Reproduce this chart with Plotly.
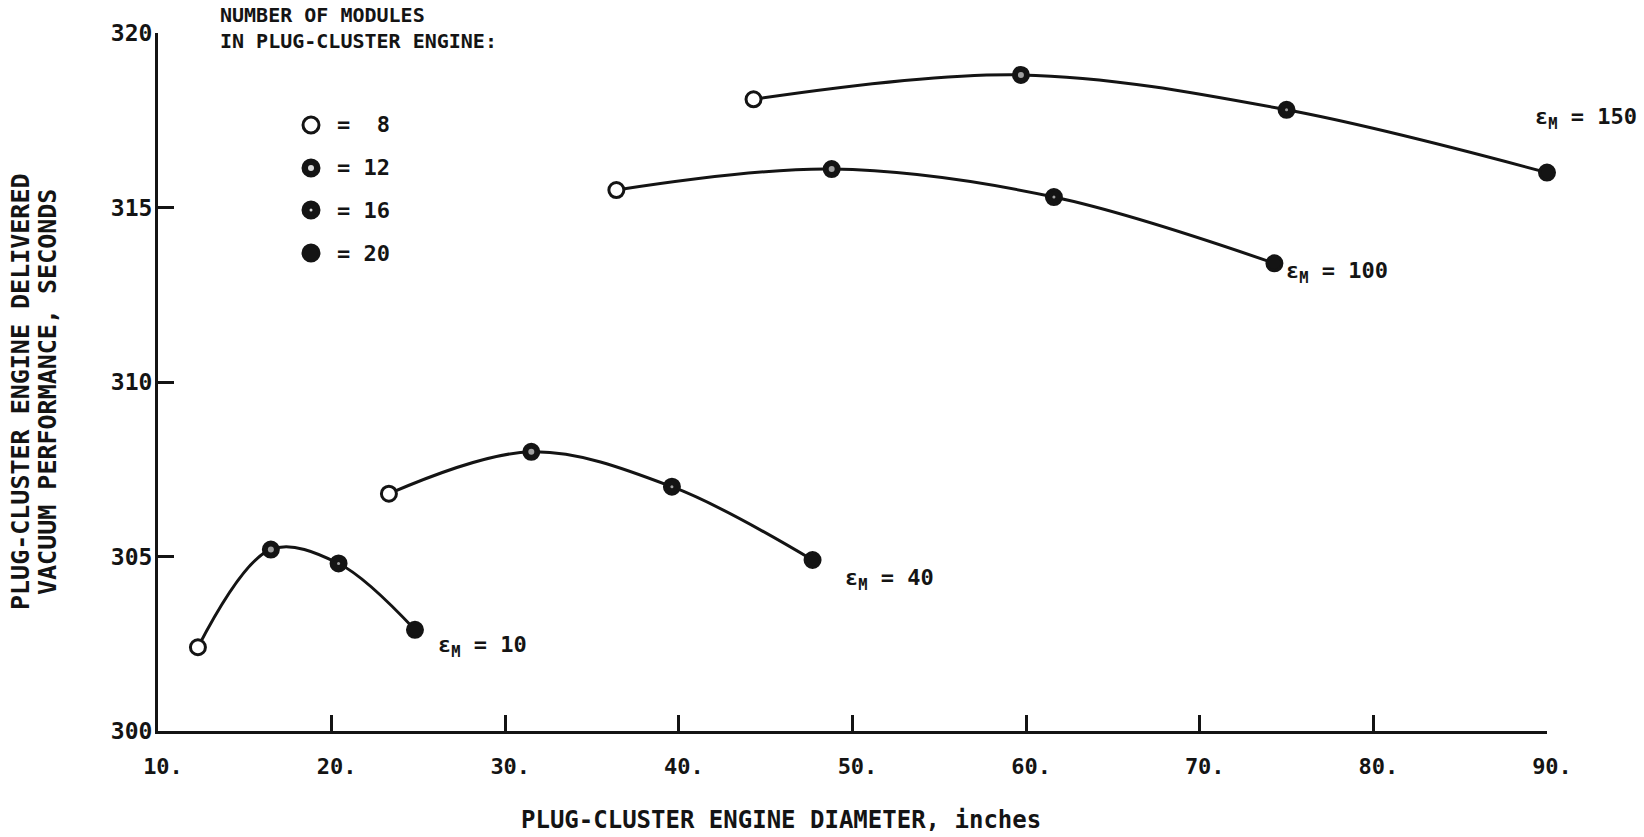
import plotly.graph_objects as go

# Number of modules at each computed point (same order on every curve)
modules = [8, 12, 16, 20]

# Engine diameter (inches) and delivered vacuum Isp (s) for each module area ratio
diam_eps10 = [12.3, 16.5, 20.4, 24.8]
isp_eps10 = [302.4, 305.2, 304.8, 302.9]

diam_eps40 = [23.3, 31.5, 39.6, 47.7]
isp_eps40 = [306.8, 308.0, 307.0, 304.9]

diam_eps100 = [36.4, 48.8, 61.6, 74.3]
isp_eps100 = [315.5, 316.1, 315.3, 313.4]

diam_eps150 = [44.3, 59.7, 75.0, 90.0]
isp_eps150 = [318.1, 318.8, 317.8, 316.0]

eps_values = ["10", "40", "100", "150"]

x_ticks = [10, 20, 30, 40, 50, 60, 70, 80, 90]
x_ticktext = ["10.", "20.", "30.", "40.", "50.", "60.", "70.", "80.", "90."]
y_ticks = [300, 305, 310, 315, 320]

FONT = "DejaVu Sans Mono"
INK = "#141414"

W, H = 1644, 837
L, R, T, B = 158, 1547, 33, 731


def px_x(px):
    return (px - L) / (R - L)


def px_y(py):
    return (B - py) / (B - T)


def txt(size):
    return dict(family=FONT, size=size, color=INK, weight="bold")


# marker appearance by module count
fill_by_mod = {8: "white", 12: INK, 16: INK, 20: INK}
core_by_mod = {12: 6, 16: 3}

# (diameters, isp, area ratio, label x offset px, label y offset px)
curves = [
    (diam_eps10, isp_eps10, eps_values[0], 21, -17),
    (diam_eps40, isp_eps40, eps_values[1], 30, -20),
    (diam_eps100, isp_eps100, eps_values[2], 10, -9),
    (diam_eps150, isp_eps150, eps_values[3], -14, 54),
]

fig = go.Figure()
annotations = []

for xs, ys, eps, dx, dy in curves:
    fig.add_trace(go.Scatter(
        x=xs, y=ys, mode="lines",
        line=dict(color=INK, width=3, shape="spline", smoothing=1.0),
        hoverinfo="skip", showlegend=False, cliponaxis=False,
    ))
    fig.add_trace(go.Scatter(
        x=xs, y=ys, mode="markers",
        marker=dict(size=15, symbol="circle",
                    color=[fill_by_mod[m] for m in modules],
                    line=dict(color=INK, width=3)),
        showlegend=False, cliponaxis=False,
        name="ε_M = " + eps,
    ))
    cx = [x for x, m in zip(xs, modules) if m in core_by_mod]
    cy = [y for y, m in zip(ys, modules) if m in core_by_mod]
    cs = [core_by_mod[m] for m in modules if m in core_by_mod]
    fig.add_trace(go.Scatter(
        x=cx, y=cy, mode="markers",
        marker=dict(size=cs, color="#d8d8d8", line=dict(width=0)),
        hoverinfo="skip", showlegend=False, cliponaxis=False,
    ))
    annotations.append(dict(
        x=xs[-1], y=ys[-1], xref="x", yref="y",
        text="ε<sub>M</sub> = " + eps, showarrow=False,
        xanchor="left", yanchor="middle", xshift=dx, yshift=dy,
        font=txt(22),
    ))

# module-count key
shapes = []
key_x = 311
key_rows = [125, 168, 210, 253]
for m, py in zip(modules, key_rows):
    shapes.append(dict(
        type="circle", xref="paper", yref="paper",
        xsizemode="pixel", ysizemode="pixel",
        xanchor=px_x(key_x), yanchor=px_y(py),
        x0=-8, x1=8, y0=-8, y1=8,
        fillcolor=fill_by_mod[m], line=dict(color=INK, width=3),
    ))
    if m in core_by_mod:
        r = core_by_mod[m] / 2
        shapes.append(dict(
            type="circle", xref="paper", yref="paper",
            xsizemode="pixel", ysizemode="pixel",
            xanchor=px_x(key_x), yanchor=px_y(py),
            x0=-r, x1=r, y0=-r, y1=r,
            fillcolor="#d8d8d8", line=dict(width=0),
        ))
    annotations.append(dict(
        x=px_x(335), y=px_y(py), xref="paper", yref="paper",
        text="= " + str(m).rjust(2), showarrow=False,
        xanchor="left", yanchor="middle",
        font=txt(22),
    ))

annotations.append(dict(
    x=px_x(218), y=px_y(28), xref="paper", yref="paper",
    text="NUMBER OF MODULES<br>IN PLUG-CLUSTER ENGINE:", align="left",
    showarrow=False, xanchor="left", yanchor="middle",
    font=txt(20),
))

# axis titles
annotations.append(dict(
    x=px_x(781), y=px_y(820), xref="paper", yref="paper",
    text="PLUG-CLUSTER ENGINE DIAMETER, inches", showarrow=False,
    xanchor="center", yanchor="middle",
    font=txt(24),
))
for line, px in (("PLUG-CLUSTER ENGINE DELIVERED", 20),
                 ("VACUUM PERFORMANCE, SECONDS", 47)):
    annotations.append(dict(
        x=px_x(px), y=px_y(392), xref="paper", yref="paper",
        text=line, showarrow=False, textangle=-90,
        xanchor="center", yanchor="middle",
        font=txt(25),
    ))

fig.update_layout(
    width=W, height=H,
    margin=dict(l=L, r=W - R, t=T, b=H - B, pad=0),
    paper_bgcolor="white", plot_bgcolor="white",
    font=txt(24),
    showlegend=False,
    annotations=annotations, shapes=shapes,
    xaxis=dict(
        range=[10, 90], tickvals=x_ticks, ticktext=x_ticktext,
        showline=True, linecolor=INK, linewidth=3,
        ticks="inside", ticklen=16, tickwidth=2.5, tickcolor=INK,
        showgrid=False, zeroline=False, ticklabelstandoff=14,
        tickfont=txt(22),
    ),
    yaxis=dict(
        range=[300, 320], tickvals=y_ticks,
        showline=True, linecolor=INK, linewidth=3,
        ticks="inside", ticklen=16, tickwidth=2.5, tickcolor=INK,
        showgrid=False, zeroline=False, ticklabelstandoff=0,
        tickfont=txt(23),
    ),
)

# nudge the value labels relative to their axis lines
try:
    fig.update_xaxes(ticklabelshift=5)
except ValueError:
    pass
try:
    fig.update_yaxes(ticklabelstandoff=-2)
except ValueError:
    pass

fig.write_html("out.html")
